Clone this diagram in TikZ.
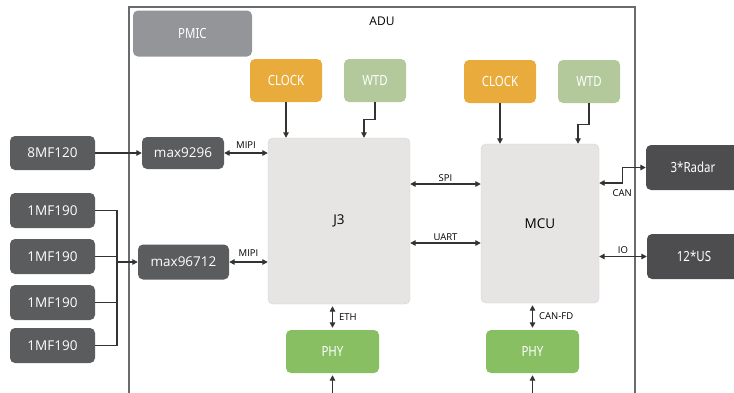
\documentclass[tikz,border=0pt]{standalone}
\usepackage{fontspec}
\setmainfont{Open Sans}
\newfontfamily\narrowfont[FakeStretch=0.82]{Noto Sans}
\usepackage[HTML]{xcolor}
\usetikzlibrary{positioning, arrows.meta, calc}
\definecolor{framegray}{HTML}{6A6B6D}
\definecolor{pmicgray}{HTML}{939598}
\definecolor{clockorange}{HTML}{E9AC3C}
\definecolor{wtdgreen}{HTML}{B3C99B}
\definecolor{socgray}{HTML}{E6E5E4}
\definecolor{socline}{HTML}{D2D2D2}
\definecolor{chipdark}{HTML}{5A5C5E}
\definecolor{extdark}{HTML}{4D4D4F}
\definecolor{phygreen}{HTML}{88BF63}
\definecolor{wire}{HTML}{333333}

\begin{document}
\begin{tikzpicture}[x=1pt, y=-1pt,
  box/.style={rounded corners=5pt, inner sep=0pt, text=white},
  dark/.style={box, fill=chipdark, minimum width=85pt, minimum height=34pt, font=\fontsize{13.5}{16}\selectfont},
  narrow/.style={box, minimum width=62pt, minimum height=43pt, font=\narrowfont\fontsize{14}{16}\selectfont},
  soc/.style={rounded corners=5pt, fill=socgray, draw=socline, text=black, font=\fontsize{13.5}{16}\selectfont},
  lbl/.style={font=\fontsize{9.5}{11}\selectfont, text=black, inner sep=2pt},
  arr/.style={draw=wire, line width=1.3pt, -{Triangle[length=5.5pt,width=5.5pt]}},
  dbl/.style={draw=wire, line width=1.3pt, {Triangle[length=5.5pt,width=5.5pt]}-{Triangle[length=5.5pt,width=5.5pt]}}]
\useasboundingbox (0,0) rectangle (734,392);

% ADU frame
\draw[framegray, line width=1.5pt] (129,400) -- (129,7) -- (635,7) -- (635,400);
\node[font=\fontsize{12}{14}\selectfont] (adu) at (382,21) {ADU};

% board parts
\node[narrow, fill=pmicgray, minimum width=119pt, minimum height=46pt] (pmic) at (192.5,33.5) {PMIC};
\node[narrow, fill=clockorange, minimum width=72pt] (clka) at (286,80.5) {CLOCK};
\node[narrow, fill=wtdgreen] (wtda) at (375,80.5) {WTD};
\node[narrow, fill=clockorange, minimum width=72pt] (clkb) at (500,81.5) {CLOCK};
\node[narrow, fill=wtdgreen] (wtdb) at (589,81.5) {WTD};
\node[soc, minimum width=142pt, minimum height=166pt] (jthree) at (339,221) {J3};
\node[soc, minimum width=118pt, minimum height=159pt] (mcu) at (540,223.5) {MCU};
\node[dark, minimum width=82pt, minimum height=32pt] (maxa) at (183,153) {max9296};
\node[dark, minimum width=91pt, minimum height=35pt] (maxb) at (183.5,262) {max96712};
\node[narrow, fill=phygreen, minimum width=93pt] (phya) at (332.5,351.5) {PHY};
\node[narrow, fill=phygreen, minimum width=93pt] (phyb) at (532.5,351.5) {PHY};

% sensors
\node[dark] (cam8) at (52.5,153) {8MF120};
\foreach \i/\y in {1/210.5, 2/256.5, 3/302.5, 4/345.5}
  \node[dark, minimum height=35pt] (cam\i) at (52.5,\y) {1MF190};
\node[narrow, fill=extdark, minimum width=94pt, minimum height=45pt] (radar) at (693,167.5) {3*Radar};
\node[narrow, fill=extdark, minimum width=94pt, minimum height=45pt] (us) at (694,256.5) {12*US};

% links
\coordinate (bus) at (117,262);
\coordinate (spirow) at (0,184);
\coordinate (uartrow) at (0,243);
\coordinate (canrow) at (0,183);
\draw[arr] (cam8) -- (maxa);
\foreach \i in {1,...,4}
  \draw[wire, line width=1.3pt] (cam\i.east) -| (bus);
\draw[arr] (bus) -- (maxb);
\draw[dbl] (maxa) -- (maxa -| jthree.west) node[lbl, midway, above=2pt] {MIPI};
\draw[dbl] (maxb.east) -- (maxb -| jthree.west) node[lbl, midway, above=3pt] {MIPI};
\draw[arr] (clka) -- (clka |- jthree.north);
\draw[arr] (wtda.south) -- ++(0,17) -| ([xshift=25pt]jthree.north);
\draw[arr] (clkb) -- (clkb |- mcu.north);
\draw[arr] (wtdb.south) -- ++(0,21) -| ([xshift=38pt]mcu.north);
\draw[dbl] (jthree.east |- spirow) -- (mcu.west |- spirow) node[lbl, midway, above] {SPI};
\draw[dbl] (jthree.east |- uartrow) -- (mcu.west |- uartrow) node[lbl, midway, above] {UART};
\draw[dbl] (mcu.east |- canrow) -- ++(23,0) coordinate (canbend) |- (radar.west);
\node[lbl, below=4pt] at (canbend) {CAN};
\draw[dbl] (mcu.east |- us) -- (us.west) node[lbl, midway, above] {IO};
\draw[dbl, shorten <=2pt, shorten >=2pt] (phya.north |- jthree.south) -- (phya.north) node[lbl, midway, right=4pt] {ETH};
\draw[dbl, shorten <=2pt, shorten >=2pt] (phyb.north |- mcu.south) -- (phyb.north) node[lbl, midway, right=4pt] {CAN-FD};
\draw[dbl, shorten <=2pt] (phya.south) -- ++(0,30);
\draw[dbl, shorten <=2pt] (phyb.south) -- ++(0,30);
\end{tikzpicture}
\end{document}
